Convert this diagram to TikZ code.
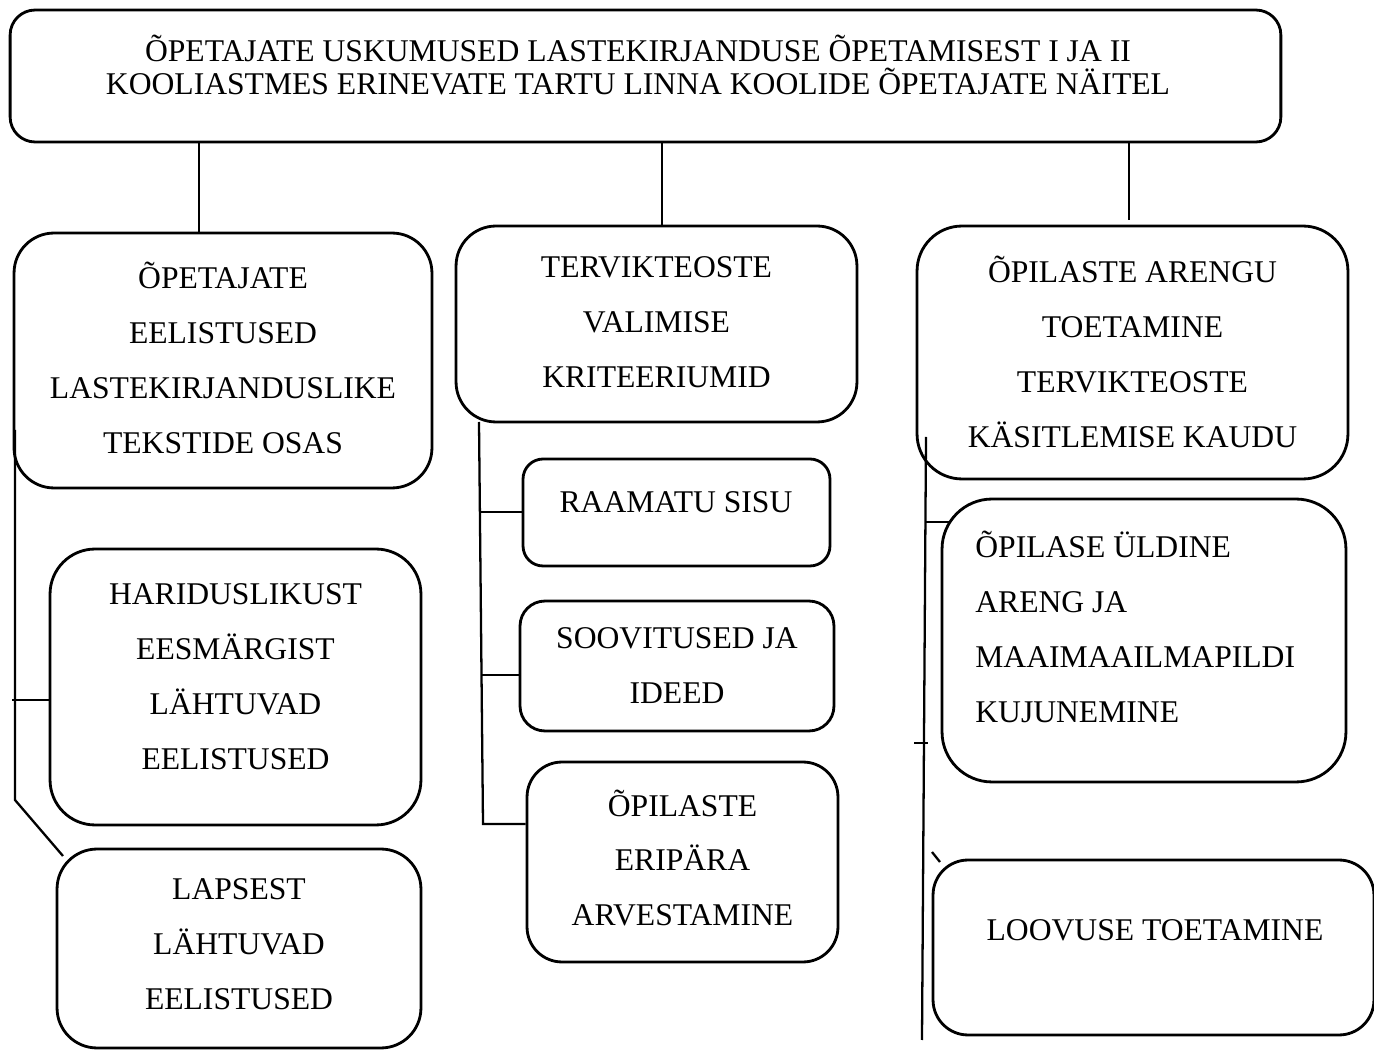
\documentclass[tikz,border=0pt]{standalone}
\usepackage{fontspec}
\setmainfont{Liberation Serif}
\begin{document}
\begin{tikzpicture}[x=0.02cm,y=-0.02cm,
  box/.style={draw, line width=1.6pt, inner sep=0pt},
  txt/.style={font=\fontsize{18}{31.3}\selectfont, align=center, inner sep=0pt},
  link/.style={line width=1.3pt},
  thin link/.style={line width=1pt}]
\useasboundingbox (0,0) rectangle (1374,1050);
% boxes
\node[box, minimum width=25.42cm, minimum height=2.64cm, rounded corners=0.5cm] (title) at (645.5,76) {};
\node[box, minimum width=8.36cm, minimum height=5.1cm, rounded corners=0.8cm] (l1) at (223,360.5) {};
\node[box, minimum width=7.42cm, minimum height=5.52cm, rounded corners=0.9cm] (l2) at (235.5,687) {};
\node[box, minimum width=7.28cm, minimum height=3.98cm, rounded corners=0.8cm] (l3) at (239,948.5) {};
\node[box, minimum width=8.02cm, minimum height=3.92cm, rounded corners=0.8cm] (m1) at (656.5,324) {};
\node[box, minimum width=6.14cm, minimum height=2.14cm, rounded corners=0.4cm] (m2) at (676.5,512.5) {};
\node[box, minimum width=6.28cm, minimum height=2.6cm, rounded corners=0.5cm] (m3) at (677,666) {};
\node[box, minimum width=6.22cm, minimum height=4.0cm, rounded corners=0.7cm] (m4) at (682.5,862) {};
\node[box, minimum width=8.62cm, minimum height=5.06cm, rounded corners=0.9cm] (r1) at (1132.5,352.5) {};
\node[box, minimum width=8.08cm, minimum height=5.66cm, rounded corners=1.0cm] (r2) at (1144,640.5) {};
\node[box, minimum width=8.82cm, minimum height=3.5cm, rounded corners=0.7cm] (r3) at (1153.5,947.5) {};
% texts
\node[txt, font=\fontsize{18}{19.3}\selectfont] (titlet) at (638,65) {ÕPETAJATE USKUMUSED LASTEKIRJANDUSE ÕPETAMISEST I JA II\\KOOLIASTMES ERINEVATE TARTU LINNA KOOLIDE ÕPETAJATE NÄITEL};
\node[txt] (l1t) at (223,357.5) {ÕPETAJATE\\EELISTUSED\\LASTEKIRJANDUSLIKE\\TEKSTIDE OSAS};
\node[txt] (l2t) at (235.5,676.5) {HARIDUSLIKUST\\EESMÄRGIST\\LÄHTUVAD\\EELISTUSED};
\node[txt] (l3t) at (239,944) {LAPSEST\\LÄHTUVAD\\EELISTUSED};
\node[txt] (m1t) at (656.5,322) {TERVIKTEOSTE\\VALIMISE\\KRITEERIUMID};
\node[txt] (m2t) at (676,502) {RAAMATU SISU};
\node[txt] (m3t) at (677,665.5) {SOOVITUSED JA\\IDEED};
\node[txt] (m4t) at (682.5,858) {ÕPILASTE\\ERIPÄRA\\ARVESTAMINE};
\node[txt] (r1t) at (1132.5,352) {ÕPILASTE ARENGU\\TOETAMINE\\TERVIKTEOSTE\\KÄSITLEMISE KAUDU};
\node[txt, align=left, anchor=west] (r2t) at (975,626.5) {ÕPILASE ÜLDINE\\ARENG JA\\MAAIMAAILMAPILDI\\KUJUNEMINE};
\node[txt] (r3t) at (1155,930) {LOOVUSE TOETAMINE};
% top connectors
\coordinate (cx1) at (199,0);
\coordinate (cx2) at (662,0);
\coordinate (r1end) at (1129,220);
\draw[thin link] (title.south -| cx1) -- (l1.north -| cx1);
\draw[thin link] (title.south -| cx2) -- (m1.north -| cx2);
\draw[thin link] (title.south -| r1end) -- (r1end);
% left bus
\coordinate (lbA) at (15,430);
\coordinate (lbB) at (15,800);
\coordinate (lt) at (12,700);
\coordinate (l3c) at (63,856);
\draw[link] (lbA) -- (lbB) -- (l3c);
\draw[link] (lt) -- (lt -| l2.west);
% middle bus
\coordinate (mbA) at (479,422);
\coordinate (mbB) at (483,824);
\coordinate (mt1) at (480,512);
\coordinate (mt2) at (481,675);
\draw[link] (mbA) -- (mbB) -- (mbB -| m4.west);
\draw[link] (mt1) -- (mt1 -| m2.west);
\draw[link] (mt2) -- (mt2 -| m3.west);
% right bus
\coordinate (rbA) at (926,437);
\coordinate (rbB) at (922,1040);
\coordinate (rt1) at (926,522);
\coordinate (rt1e) at (950,522);
\coordinate (rxA) at (914,743);
\coordinate (rxB) at (928,743);
\coordinate (rsA) at (932,852);
\coordinate (rsB) at (940,862);
\draw[link] (rbA) -- (rbB);
\draw[link] (rt1) -- (rt1e);
\draw[link] (rxA) -- (rxB);
\draw[link] (rsA) -- (rsB);
\end{tikzpicture}
\end{document}
